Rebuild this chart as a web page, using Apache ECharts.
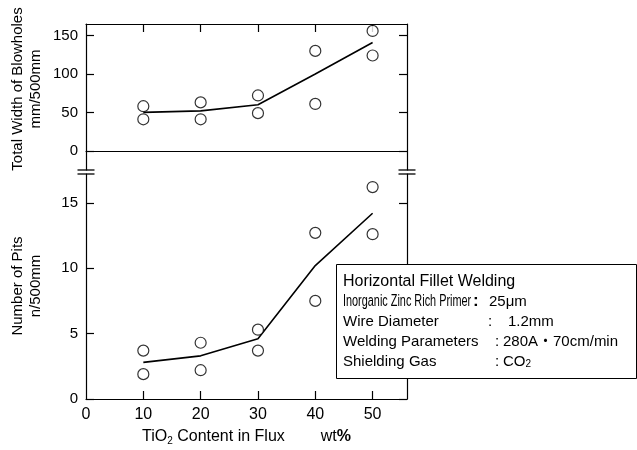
<!DOCTYPE html>
<html>
<head>
<meta charset="utf-8">
<script src="https://cdn.jsdelivr.net/npm/echarts@6/dist/echarts.min.js"></script>
<style>
html,body{margin:0;padding:0;background:#fff;}
#c{width:637px;height:450px;}
</style>
</head>
<body>
<div id="c"></div>
<script>
// ---- data ----
const tio2 = [10, 20, 30, 40, 50];                 // TiO2 content in flux, wt%
const blowHigh  = [58, 63, 72, 130, 156];           // total width of blowholes, upper points
const blowLow   = [41, 41, 49, 61, 124];            // lower points
const blowTrend = [50, 52, 60, 100, 141];           // trend line
const pitsHigh  = [3.7, 4.3, 5.3, 12.7, 16.2];      // number of pits, upper points
const pitsLow   = [1.9, 2.2, 3.7, 7.5, 12.6];       // lower points
const pitsTrend = [2.8, 3.3, 4.6, 10.2, 14.2];      // trend line
const xTicks = [0, 10, 20, 30, 40, 50];
const blowTicks = [0, 50, 100, 150];
const pitsTicks = [0, 5, 10, 15];

const FONT = 'Liberation Sans, Arial, sans-serif';
const pairs = (xs, ys) => xs.map((x, i) => [x, ys[i]]);

// layout
const L = 86, R = 230, T1 = 24, H1 = 146, T2 = 174, H2 = 225;
const xLeft = L, xRight = 637 - R;
const breakTop = T1 + H1, breakBot = T2;

const chart = echarts.init(document.getElementById('c'), null, {renderer: 'canvas'});

const axisLine = {show: true, onZero: false, lineStyle: {color: '#000', width: 1.2}};
const tickIn = (vals) => ({show: true, inside: true, length: 8, customValues: vals, lineStyle: {color: '#000', width: 1.2}});

const scatterStyle = {
  type: 'scatter', symbol: 'circle', symbolSize: 11,
  itemStyle: {color: '#fff', borderColor: '#000', borderWidth: 1.2},
  emphasis: {disabled: true}, z: 5
};
const lineStyle = {
  type: 'line', showSymbol: false, symbol: 'none',
  lineStyle: {color: '#000', width: 1.6}, emphasis: {disabled: true}, z: 3
};

const option = {
  animation: false,
  backgroundColor: '#fff',
  grid: [
    {left: L, right: R, top: T1, height: H1},
    {left: L, right: R, top: T2, height: H2}
  ],
  xAxis: [
    { // zero line of upper chart
      gridIndex: 0, type: 'value', min: 0, max: 56, position: 'bottom',
      axisLine: {show: true, onZero: true, onZeroAxisIndex: 0, lineStyle: {color: '#000', width: 1.2}},
      axisTick: {show: false}, axisLabel: {show: false}, splitLine: {show: false}
    },
    { // top border
      gridIndex: 0, type: 'value', min: 0, max: 56, position: 'top',
      axisLine: axisLine, axisTick: tickIn([10, 20, 30, 40, 50]),
      axisLabel: {show: false}, splitLine: {show: false}
    },
    { // lower chart x axis
      gridIndex: 1, type: 'value', min: 0, max: 56, position: 'bottom',
      axisLine: axisLine, axisTick: tickIn([10, 20, 30, 40, 50]),
      axisLabel: {show: true, customValues: xTicks, margin: 8, color: '#000', fontSize: 16, fontFamily: FONT},
      splitLine: {show: false},
      name: '{a|TiO}{s|2}{a| Content in Flux}{w|wt}{p|%}',
      nameLocation: 'middle', nameGap: 29,
      nameTextStyle: {
        color: '#000', fontSize: 16, fontFamily: FONT,
        rich: {
          a: {fontSize: 16, fontFamily: FONT, color: '#000', lineHeight: 18},
          s: {fontSize: 10, fontFamily: FONT, color: '#000', verticalAlign: 'bottom', lineHeight: 10},
          w: {fontSize: 16, fontFamily: FONT, color: '#000', lineHeight: 18, padding: [0, 0, 0, 36]},
          p: {fontSize: 16, fontFamily: FONT, color: '#000', lineHeight: 18, fontWeight: 'bold'}
        }
      }
    },
    { // hidden helper for right axis in lower grid
      gridIndex: 1, type: 'value', min: 0, max: 56, position: 'top', show: false
    }
  ],
  yAxis: [
    {
      gridIndex: 0, type: 'value', min: -25, max: 165, position: 'left',
      axisLine: axisLine, axisTick: tickIn(blowTicks),
      axisLabel: {show: true, customValues: blowTicks, margin: 8, color: '#000', fontSize: 15, fontFamily: FONT},
      splitLine: {show: false}
    },
    {
      gridIndex: 0, type: 'value', min: -25, max: 165, position: 'right',
      axisLine: axisLine, axisTick: tickIn(blowTicks),
      axisLabel: {show: false}, splitLine: {show: false}
    },
    {
      gridIndex: 1, type: 'value', min: 0, max: 17.2, position: 'left',
      axisLine: axisLine, axisTick: tickIn(pitsTicks),
      axisLabel: {show: true, customValues: pitsTicks, margin: 8, color: '#000', fontSize: 15, fontFamily: FONT},
      splitLine: {show: false}
    },
    {
      gridIndex: 1, type: 'value', min: 0, max: 17.2, position: 'right',
      axisLine: axisLine, axisTick: tickIn(pitsTicks),
      axisLabel: {show: false}, splitLine: {show: false}
    }
  ],
  series: [
    Object.assign({}, lineStyle, {xAxisIndex: 0, yAxisIndex: 0, data: pairs(tio2, blowTrend)}),
    Object.assign({}, scatterStyle, {xAxisIndex: 0, yAxisIndex: 0, data: pairs(tio2, blowHigh)}),
    Object.assign({}, scatterStyle, {xAxisIndex: 0, yAxisIndex: 0, data: pairs(tio2, blowLow)}),
    Object.assign({}, lineStyle, {xAxisIndex: 2, yAxisIndex: 2, data: pairs(tio2, pitsTrend)}),
    Object.assign({}, scatterStyle, {xAxisIndex: 2, yAxisIndex: 2, data: pairs(tio2, pitsHigh)}),
    Object.assign({}, scatterStyle, {xAxisIndex: 2, yAxisIndex: 2, data: pairs(tio2, pitsLow)})
  ]
};

// decorations: axis break marks, axis titles, condition box
const brk = [];
[xLeft, xRight].forEach(x => {
  [breakTop, breakBot].forEach(y => {
    brk.push({type: 'line', z: 20, shape: {x1: x - 8.5, y1: y, x2: x + 8.5, y2: y},
      style: {stroke: '#000', lineWidth: 1.3}});
  });
});

const txt = (x, y, text, extra) => Object.assign({
  type: 'text', x: x, y: y, z: 30,
  style: {text: text, fill: '#000', font: '15px ' + FONT, verticalAlign: 'middle', align: 'left'}
}, extra || {});

const boxX = 336, boxY = 264, boxW = 300, boxH = 114;
const rowY = [281.5, 301.5, 321.5, 341.5, 361.5];
const tx = 343;
const subRich = {s: {fontSize: 10, fontFamily: FONT, fill: '#000', verticalAlign: 'bottom', lineHeight: 10}};

const graphics = brk.concat([
  // y-axis titles
  {type: 'text', x: 17.5, y: 89, rotation: Math.PI / 2, z: 30,
    style: {text: 'Total Width of Blowholes', fill: '#000', font: '15px ' + FONT, align: 'center', verticalAlign: 'middle'}},
  {type: 'text', x: 36, y: 89, rotation: Math.PI / 2, z: 30,
    style: {text: 'mm/500mm', fill: '#000', font: '15px ' + FONT, align: 'center', verticalAlign: 'middle'}},
  {type: 'text', x: 17.5, y: 286, rotation: Math.PI / 2, z: 30,
    style: {text: 'Number of Pits', fill: '#000', font: '15px ' + FONT, align: 'center', verticalAlign: 'middle'}},
  {type: 'text', x: 36, y: 286, rotation: Math.PI / 2, z: 30,
    style: {text: 'n/500mm', fill: '#000', font: '15px ' + FONT, align: 'center', verticalAlign: 'middle'}},
  // condition box
  {type: 'rect', z: 25, shape: {x: boxX + 0.5, y: boxY + 0.5, width: boxW, height: boxH},
    style: {fill: '#fff', stroke: '#000', lineWidth: 1}},
  txt(tx, rowY[0], 'Horizontal Fillet Welding', {style: {text: 'Horizontal Fillet Welding', fill: '#000', font: '16px ' + FONT, verticalAlign: 'middle'}}),
  txt(tx, rowY[1], 'Inorganic Zinc Rich Primer', {scaleX: 0.68, style: {text: 'Inorganic Zinc Rich Primer', fill: '#000', font: '16px ' + FONT, verticalAlign: 'middle'}}),
  txt(473, rowY[1], ':', {style: {text: ':', fill: '#000', font: 'bold 17px ' + FONT, verticalAlign: 'middle'}}),
  txt(489, rowY[1], '25μm'),
  txt(tx, rowY[2], 'Wire Diameter'),
  txt(488, rowY[2], ':'),
  txt(508, rowY[2], '1.2mm'),
  txt(tx, rowY[3], 'Welding Parameters'),
  txt(495, rowY[3], ':'),
  txt(503, rowY[3], '280A・70cm/min', {style: {text: '280A・70cm/min', fill: '#000', font: '15px Liberation Sans, "Noto Sans CJK JP", sans-serif', verticalAlign: 'middle'}}),
  txt(tx, rowY[4], 'Shielding Gas'),
  txt(495, rowY[4], ':'),
  {type: 'text', x: 503, y: rowY[4], z: 30,
    style: {text: 'CO{s|2}', fill: '#000', font: '15px ' + FONT, verticalAlign: 'middle', rich: subRich}}
]);
option.graphic = graphics;

chart.setOption(option);
</script>
</body>
</html>
